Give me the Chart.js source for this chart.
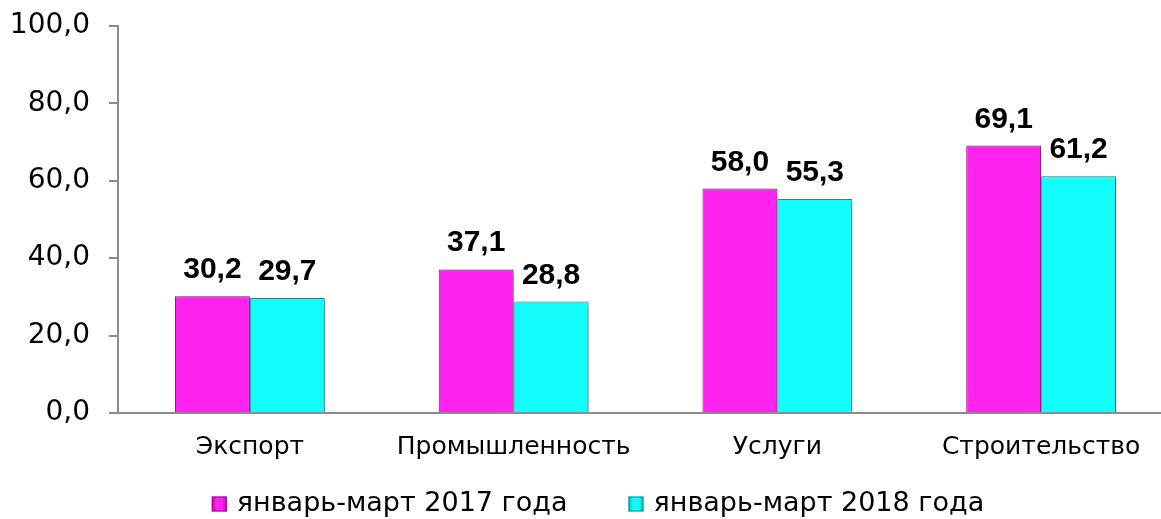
<!DOCTYPE html>
<html>
<head>
<meta charset="utf-8">
<script src="https://cdn.jsdelivr.net/npm/chart.js@4"></script>
<style>
  html, body { margin: 0; padding: 0; background: #fff; overflow: hidden; }
  #wrap { width: 1175px; height: 519px; }
</style>
</head>
<body>
<div id="wrap"><canvas id="grafico"></canvas></div>
<script>
const categorias = ['Экспорт', 'Промышленность', 'Услуги', 'Строительство'];
const serie2017 = [30.2, 37.1, 58.0, 69.1];
const serie2018 = [29.7, 28.8, 55.3, 61.2];
const nombres = ['январь-март 2017 года', 'январь-март 2018 года'];
const ticksY = [0, 20, 40, 60, 80, 100];

const colores = [
    { base: '#ff22ee', oscuro: '#b8089f', borde: '#a00890' },
    { base: '#12fcfa', oscuro: '#0cb4b4', borde: '#0a9c9c' }
];

const fmt = v => v.toFixed(1).replace('.', ',');

function relleno(ctx, c) {
    const el = ctx.element;
    if (!el || el.width === undefined || isNaN(el.x)) return c.base;
    const x0 = el.x - el.width / 2;
    const g = ctx.chart.ctx.createLinearGradient(x0, 0, x0 + el.width, 0);
    g.addColorStop(0, c.oscuro);
    g.addColorStop(0.1, c.base);
    g.addColorStop(0.9, c.base);
    g.addColorStop(1, c.oscuro);
    return g;
}

// sombra de las barras
const sombra = {
    id: 'sombra',
    beforeDatasetsDraw(chart) {
        const c = chart.ctx;
        c.save();
        c.shadowColor = 'rgba(0,0,0,0.35)';
        c.shadowBlur = 5;
        c.shadowOffsetX = 3;
        c.shadowOffsetY = 2;
    },
    afterDatasetsDraw(chart) {
        chart.ctx.restore();
    }
};

// etiquetas encima de las barras
const etiquetas = {
    id: 'etiquetas',
    afterDatasetsDraw(chart) {
        const c = chart.ctx;
        c.save();
        c.font = 'bold 30px "Liberation Sans", Arial, sans-serif';
        c.fillStyle = '#000';
        c.textAlign = 'center';
        c.textBaseline = 'alphabetic';
        chart.data.datasets.forEach((ds, i) => {
            chart.getDatasetMeta(i).data.forEach((bar, j) => {
                c.fillText(fmt(ds.data[j]), bar.x, bar.y - 18);
            });
        });
        c.restore();
    }
};

// leyenda abajo
const leyenda = {
    id: 'leyenda',
    afterDraw(chart) {
        const c = chart.ctx;
        c.save();
        c.font = '27px "DejaVu Sans", sans-serif';
        c.textBaseline = 'middle';
        const caja = 15, sep = 10, hueco = 61;
        const anchos = nombres.map(n => c.measureText(n).width);
        const total = anchos.reduce((a, b) => a + b, 0) + 2 * (caja + sep) + hueco;
        let x = 598 - total / 2;
        const y = 504;
        nombres.forEach((n, i) => {
            const col = colores[i];
            const g = c.createLinearGradient(x, 0, x + caja, 0);
            g.addColorStop(0, col.oscuro);
            g.addColorStop(0.3, col.base);
            g.addColorStop(0.7, col.base);
            g.addColorStop(1, col.oscuro);
            c.fillStyle = g;
            c.fillRect(x, y - caja / 2, caja, caja);
            c.strokeStyle = col.borde;
            c.lineWidth = 1;
            c.strokeRect(x + 0.5, y - caja / 2 + 0.5, caja - 1, caja - 1);
            c.fillStyle = '#000';
            c.fillText(n, x + caja + sep, y);
            x += caja + sep + anchos[i] + hueco;
        });
        c.restore();
    }
};

new Chart(document.getElementById('grafico'), {
    type: 'bar',
    data: {
        labels: categorias,
        datasets: [{
            label: nombres[0],
            data: serie2017,
            backgroundColor: ctx => relleno(ctx, colores[0]),
            borderColor: colores[0].borde,
            borderWidth: 1
        }, {
            label: nombres[1],
            data: serie2018,
            backgroundColor: ctx => relleno(ctx, colores[1]),
            borderColor: colores[1].borde,
            borderWidth: 1
        }]
    },
    options: {
        responsive: true,
        maintainAspectRatio: false,
        animation: false,
        layout: { padding: { top: 26, left: 10, right: 2, bottom: 38 } },
        datasets: { bar: { barPercentage: 1, categoryPercentage: 0.568 } },
        plugins: {
            legend: { display: false },
            tooltip: { enabled: false }
        },
        scales: {
            x: {
                grid: { display: false, drawTicks: false },
                border: { color: '#8c8c8c', width: 2 },
                ticks: {
                    color: '#000',
                    padding: 19,
                    font: { family: '"DejaVu Sans", sans-serif', size: 25 }
                }
            },
            y: {
                min: 0,
                max: 100,
                afterBuildTicks: axis => { axis.ticks = ticksY.map(v => ({ value: v })); },
                afterFit: axis => { axis.width = 108; axis.paddingTop = 0; },
                grid: { display: true, drawOnChartArea: false, drawTicks: true, tickLength: 9, color: '#8c8c8c', lineWidth: 2 },
                border: { color: '#8c8c8c', width: 2 },
                ticks: {
                    color: '#000',
                    padding: 19,
                    callback: v => fmt(v),
                    font: { family: '"DejaVu Sans", sans-serif', size: 28 }
                }
            }
        }
    },
    plugins: [sombra, etiquetas, leyenda]
});
</script>
</body>
</html>
